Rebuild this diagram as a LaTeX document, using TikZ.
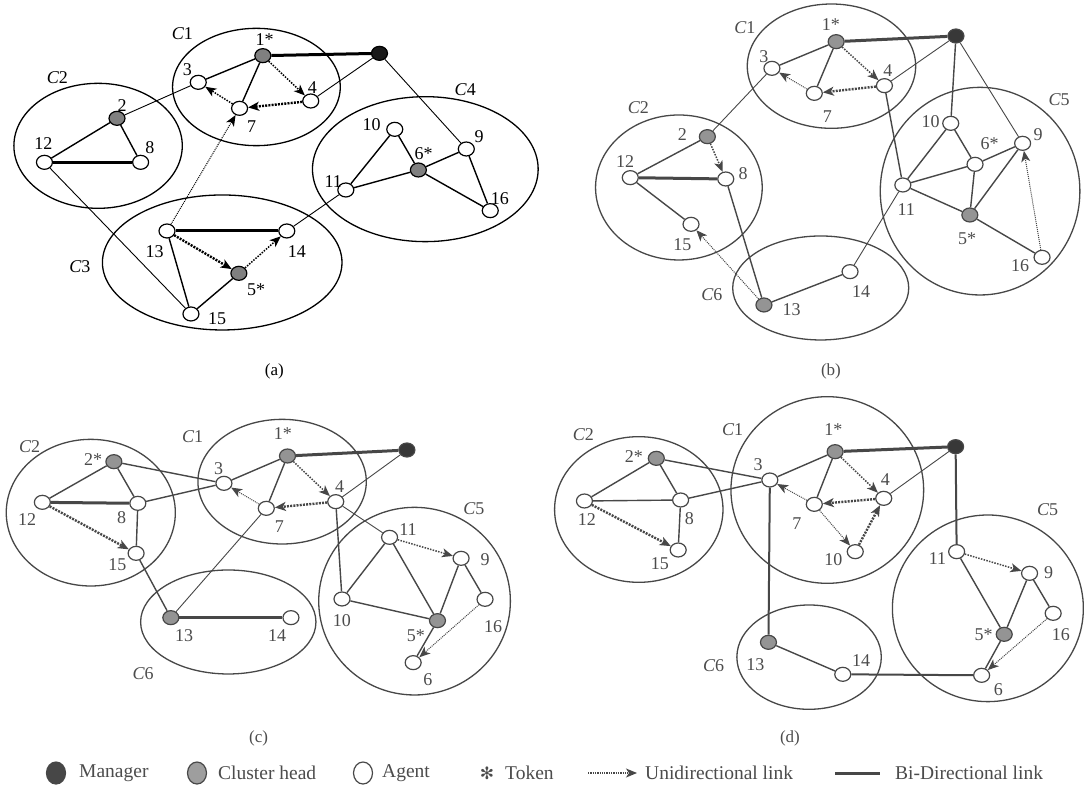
\documentclass[tikz,border=0pt]{standalone}
\usepackage{fontspec}
\setmainfont{Liberation Serif}
\newfontfamily\symfnt{DejaVu Sans}
\usetikzlibrary{shapes.geometric,arrows.meta}
\begin{document}
\begin{tikzpicture}[x=1pt,y=-1pt,
  ag/.style={ellipse, draw=lc, fill=white, line width=1.2pt, minimum width=16pt, minimum height=14pt, inner sep=0pt},
  hd/.style={ag, fill=hc},
  mg/.style={ag, fill=mc},
  lab/.style={text=tc, font=\fontsize{18}{18}\selectfont, inner sep=0pt},
  clab/.style={lab},
  subcap/.style={text=tc, font=\fontsize{17}{17}\selectfont, inner sep=0pt},
  clu/.style={draw=lc, line width=1.3pt},
  ln/.style={draw=lc, line width=1.4pt},
  thn/.style={draw=lc, line width=0.9pt},
  thk/.style={draw=lc, line width=3pt},
  uni/.style={draw=lc, line width=1.5pt, dash pattern=on 1.5pt off 1.3pt, -{Stealth[length=11pt,width=9pt,inset=3pt]}},
  unik/.style={uni, line width=2.4pt, dash pattern=on 2pt off 1.2pt},
  unit/.style={uni, line width=1pt, dash pattern=on 1pt off 1pt},
  legt/.style={text=black!70, font=\fontsize{19.5}{20}\selectfont, inner sep=0pt, anchor=west}
]
\useasboundingbox (0,0) rectangle (1084,785);
\fill[white] (0,0) rectangle (1084,785);

% ================= panel (a) =================
\begin{scope}[shift={(0,0)}, xscale=0.3472, yscale=0.3333]
\colorlet{lc}{black}\colorlet{tc}{black}\colorlet{hc}{black!50}\colorlet{mc}{black!90}
\draw[clu] (738.5,261) ellipse [x radius=241.5, y radius=176];
\draw[clu] (282.5,437.5) ellipse [x radius=242.5, y radius=187.5];
\draw[clu] (640,787.5) ellipse [x radius=345, y radius=202.5];
\draw[clu] (1225,507.5) ellipse [x radius=325, y radius=217.5];
\node[clab] (aC1) at (525,100) {\itshape C\upshape 1};
\node[clab] (aC2) at (165,232) {\itshape C\upshape 2};
\node[clab] (aC3) at (230,800) {\itshape C\upshape 3};
\node[clab] (aC4) at (1340,270) {\itshape C\upshape 4};
\node[mg] (am) at (1093,160) {};
\node[hd] (a1) at (757,167) {};
\node[ag] (a3) at (571,247) {};
\node[ag] (a4) at (895,303) {};
\node[ag] (a7) at (690,325) {};
\node[hd] (a2) at (337,355) {};
\node[ag] (a12) at (128,487) {};
\node[ag] (a8) at (405,487) {};
\node[ag] (a13) at (481,693) {};
\node[ag] (a14) at (826,693) {};
\node[hd] (a5) at (688,820) {};
\node[ag] (a15) at (550,942) {};
\node[ag] (a10) at (1137,388) {};
\node[hd] (a6) at (1205,510) {};
\node[ag] (a9) at (1343,447) {};
\node[ag] (a11) at (996,570) {};
\node[ag] (a16) at (1412,632) {};
\node[lab] (a1l) at (762,120) {1*};
\node[lab] (a3l) at (540,210) {3};
\node[lab] (a4l) at (900,262) {4};
\node[lab] (a7l) at (725,380) {7};
\node[lab] (a2l) at (352,318) {2};
\node[lab] (a12l) at (125,432) {12};
\node[lab] (a8l) at (432,442) {8};
\node[lab] (a13l) at (445,755) {13};
\node[lab] (a14l) at (855,755) {14};
\node[lab] (a5l) at (738,870) {5*};
\node[lab] (a15l) at (625,955) {15};
\node[lab] (a10l) at (1070,375) {10};
\node[lab] (a6l) at (1220,460) {6*};
\node[lab] (a9l) at (1380,410) {9};
\node[lab] (a11l) at (960,545) {11};
\node[lab] (a16l) at (1440,595) {16};
\draw[thk] (a1) -- (am);
\draw[thk] (a12) -- (a8);
\draw[thk] (a13) -- (a14);
\draw[ln] (a1) -- (a3);
\draw[ln] (a1) -- (a7);
\draw[ln] (a2) -- (a12);
\draw[ln] (a2) -- (a8);
\draw[ln] (a13) -- (a15);
\draw[ln] (a15) -- (a5);
\draw[ln] (a10) -- (a11);
\draw[ln] (a10) -- (a6);
\draw[ln] (a11) -- (a6);
\draw[ln] (a6) -- (a9);
\draw[ln] (a6) -- (a16);
\draw[ln] (a9) -- (a16);
\draw[thn] (a3) -- (a2);
\draw[thn] (am) -- (a4);
\draw[thn] (am) -- (a9);
\draw[thn] (a12) -- (a15);
\draw[thn] (a14) -- (a11);
\draw[uni] (a1) -- (a4);
\draw[unik] (a4) -- (a7);
\draw[uni] (a7) -- (a3);
\draw[unit] (a13) -- (a7);
\draw[unik] (a13) -- (a5);
\draw[uni] (a5) -- (a14);
\node[subcap] (acap) at (790,1115) {(a)};
\end{scope}

% ================= panel (b) =================
\begin{scope}[shift={(540,0)}, xscale=0.3472, yscale=0.3333]
\colorlet{lc}{black!72}\colorlet{tc}{black!70}\colorlet{hc}{black!42}\colorlet{mc}{black!78}
\draw[clu] (839.5,198.5) ellipse [x radius=242.5, y radius=186.5];
\draw[clu] (400,562.5) ellipse [x radius=240, y radius=217.5];
\draw[clu] (808.5,864) ellipse [x radius=253.5, y radius=156];
\draw[clu] (1267.5,573.5) ellipse [x radius=287.5, y radius=311.5];
\node[clab] (bC1) at (590,82) {\itshape C\upshape 1};
\node[clab] (bC2) at (283,322) {\itshape C\upshape 2};
\node[clab] (bC6) at (495,885) {\itshape C\upshape 6};
\node[clab] (bC5) at (1495,300) {\itshape C\upshape 5};
\node[mg] (bm) at (1198,108) {};
\node[hd] (b1) at (853,125) {};
\node[ag] (b3) at (668,205) {};
\node[ag] (b4) at (992,257) {};
\node[ag] (b7) at (790,280) {};
\node[hd] (b2) at (482,410) {};
\node[ag] (b12) at (260,533) {};
\node[ag] (b8) at (535,537) {};
\node[ag] (b15) at (435,673) {};
\node[hd] (b13) at (645,915) {};
\node[ag] (b14) at (893,815) {};
\node[ag] (b10) at (1183,370) {};
\node[ag] (b9) at (1390,430) {};
\node[ag] (b6) at (1253,493) {};
\node[ag] (b11) at (1045,555) {};
\node[hd] (b5) at (1238,645) {};
\node[ag] (b16) at (1446,772) {};
\node[lab] (b1l) at (838,75) {1*};
\node[lab] (b3l) at (645,170) {3};
\node[lab] (b4l) at (1002,212) {4};
\node[lab] (b7l) at (828,350) {7};
\node[lab] (b2l) at (410,405) {2};
\node[lab] (b12l) at (245,485) {12};
\node[lab] (b8l) at (585,520) {8};
\node[lab] (b15l) at (410,735) {15};
\node[lab] (b13l) at (725,930) {13};
\node[lab] (b14l) at (925,875) {14};
\node[lab] (b10l) at (1125,365) {10};
\node[lab] (b9l) at (1435,405) {9};
\node[lab] (b6l) at (1295,430) {6*};
\node[lab] (b11l) at (1055,630) {11};
\node[lab] (b5l) at (1230,715) {5*};
\node[lab] (b16l) at (1383,797) {16};
\draw[thk] (b1) -- (bm);
\draw[thk] (b12) -- (b8);
\draw[ln] (b1) -- (b3);
\draw[ln] (b1) -- (b7);
\draw[ln] (bm) -- (b10);
\draw[ln] (b4) -- (b11);
\draw[ln] (b8) -- (b13);
\draw[ln] (b13) -- (b14);
\draw[ln] (b2) -- (b12);
\draw[ln] (b12) -- (b15);
\draw[ln] (b10) -- (b11);
\draw[ln] (b10) -- (b6);
\draw[ln] (b11) -- (b6);
\draw[ln] (b6) -- (b9);
\draw[ln] (b6) -- (b5);
\draw[ln] (b5) -- (b9);
\draw[ln] (b11) -- (b5);
\draw[ln] (b5) -- (b16);
\draw[thn] (bm) -- (b4);
\draw[thn] (bm) -- (b9);
\draw[thn] (b3) -- (b2);
\draw[thn] (b14) -- (b11);
\draw[uni] (b1) -- (b4);
\draw[unik] (b4) -- (b7);
\draw[unit] (b7) -- (b3);
\draw[uni] (b2) -- (b8);
\draw[unit] (b13) -- (b15);
\draw[unit] (b16) -- (b9);
\node[subcap] (bcap) at (838,1115) {(b)};
\end{scope}

% ================= panel (c) =================
\begin{scope}[shift={(0,390)}, xscale=0.3472, yscale=0.3333]
\colorlet{lc}{black!72}\colorlet{tc}{black!70}\colorlet{hc}{black!42}\colorlet{mc}{black!78}
\draw[clu] (261.5,368) ellipse [x radius=243.5, y radius=220];
\draw[clu] (812.5,275) ellipse [x radius=242.5, y radius=187];
\draw[clu] (657.5,696) ellipse [x radius=252.5, y radius=156];
\draw[clu] (1194,633.5) ellipse [x radius=276, y radius=281.5];
\node[clab] (cC2) at (85,170) {\itshape C\upshape 2};
\node[clab] (cC1) at (555,140) {\itshape C\upshape 1};
\node[clab] (cC6) at (412,852) {\itshape C\upshape 6};
\node[clab] (cC5) at (1365,355) {\itshape C\upshape 5};
\node[hd] (c2) at (328,215) {};
\node[ag] (c12) at (122,337) {};
\node[ag] (c8) at (397,340) {};
\node[ag] (c15) at (392,490) {};
\node[hd] (c1) at (828,198) {};
\node[mg] (cm) at (1172,180) {};
\node[ag] (c3) at (645,280) {};
\node[ag] (c4) at (967,335) {};
\node[ag] (c7) at (767,355) {};
\node[hd] (c13) at (492,683) {};
\node[ag] (c14) at (838,683) {};
\node[ag] (c11) at (1122,442) {};
\node[ag] (c9) at (1328,505) {};
\node[ag] (c10) at (985,627) {};
\node[ag] (c16) at (1397,628) {};
\node[hd] (c5) at (1260,692) {};
\node[ag] (c6) at (1190,818) {};
\node[lab] (c2l) at (268,210) {2*};
\node[lab] (c12l) at (78,390) {12};
\node[lab] (c8l) at (350,383) {8};
\node[lab] (c15l) at (338,525) {15};
\node[lab] (c1l) at (815,132) {1*};
\node[lab] (c3l) at (630,235) {3};
\node[lab] (c4l) at (978,290) {4};
\node[lab] (c7l) at (805,410) {7};
\node[lab] (c13l) at (530,738) {13};
\node[lab] (c14l) at (798,738) {14};
\node[lab] (c11l) at (1175,420) {11};
\node[lab] (c9l) at (1397,510) {9};
\node[lab] (c10l) at (985,693) {10};
\node[lab] (c16l) at (1420,710) {16};
\node[lab] (c5l) at (1198,738) {5*};
\node[lab] (c6l) at (1232,870) {6};
\draw[thk] (c1) -- (cm);
\draw[thk] (c12) -- (c8);
\draw[thk] (c13) -- (c14);
\draw[ln] (c1) -- (c3);
\draw[ln] (c1) -- (c7);
\draw[ln] (c2) -- (c3);
\draw[ln] (c8) -- (c3);
\draw[ln] (c2) -- (c12);
\draw[ln] (c2) -- (c8);
\draw[ln] (c8) -- (c15);
\draw[ln] (c15) -- (c13);
\draw[ln] (c4) -- (c10);
\draw[ln] (c11) -- (c10);
\draw[ln] (c11) -- (c5);
\draw[ln] (c10) -- (c5);
\draw[ln] (c9) -- (c5);
\draw[ln] (c9) -- (c16);
\draw[ln] (c5) -- (c6);
\draw[thn] (cm) -- (c4);
\draw[thn] (c7) -- (c13);
\draw[thn] (c4) -- (c11);
\draw[uni] (c1) -- (c4);
\draw[unik] (c4) -- (c7);
\draw[unit] (c7) -- (c3);
\draw[unik] (c12) -- (c15);
\draw[uni] (c11) -- (c9);
\draw[unit] (c16) -- (c6);
\node[subcap] (ccap) at (745,1045) {(c)};
\end{scope}

% ================= panel (d) =================
\begin{scope}[shift={(540,390)}, xscale=0.3472, yscale=0.3333]
\colorlet{lc}{black!72}\colorlet{tc}{black!70}\colorlet{hc}{black!42}\colorlet{mc}{black!78}
\draw[clu] (284.5,358.5) ellipse [x radius=242.5, y radius=218.5];
\draw[clu] (827.5,300) ellipse [x radius=277.5, y radius=280];
\draw[clu] (775,801.5) ellipse [x radius=208, y radius=156.5];
\draw[clu] (1290,655) ellipse [x radius=275, y radius=280];
\node[clab] (dC2) at (125,133) {\itshape C\upshape 2};
\node[clab] (dC1) at (555,120) {\itshape C\upshape 1};
\node[clab] (dC6) at (500,828) {\itshape C\upshape 6};
\node[clab] (dC5) at (1462,360) {\itshape C\upshape 5};
\node[hd] (d2) at (335,205) {};
\node[ag] (d12) at (128,333) {};
\node[ag] (d8) at (405,330) {};
\node[ag] (d15) at (398,480) {};
\node[hd] (d1) at (850,185) {};
\node[mg] (dm) at (1197,170) {};
\node[ag] (d3) at (662,270) {};
\node[ag] (d4) at (990,325) {};
\node[ag] (d7) at (790,343) {};
\node[ag] (d10) at (908,485) {};
\node[hd] (d13) at (658,757) {};
\node[ag] (d14) at (872,853) {};
\node[ag] (d11) at (1200,485) {};
\node[ag] (d9) at (1410,550) {};
\node[ag] (d16) at (1478,670) {};
\node[hd] (d5) at (1337,733) {};
\node[ag] (d6) at (1272,856) {};
\node[lab] (d2l) at (270,200) {2*};
\node[lab] (d12l) at (135,390) {12};
\node[lab] (d8l) at (430,385) {8};
\node[lab] (d15l) at (345,520) {15};
\node[lab] (d1l) at (845,120) {1*};
\node[lab] (d3l) at (628,225) {3};
\node[lab] (d4l) at (995,270) {4};
\node[lab] (d7l) at (740,400) {7};
\node[lab] (d10l) at (845,510) {10};
\node[lab] (d13l) at (620,825) {13};
\node[lab] (d14l) at (925,812) {14};
\node[lab] (d11l) at (1145,505) {11};
\node[lab] (d9l) at (1465,548) {9};
\node[lab] (d16l) at (1500,733) {16};
\node[lab] (d5l) at (1278,735) {5*};
\node[lab] (d6l) at (1320,900) {6};
\draw[thk] (d1) -- (dm);
\draw[ln] (d1) -- (d3);
\draw[ln] (d1) -- (d7);
\draw[ln] (d2) -- (d3);
\draw[ln] (d8) -- (d3);
\draw[ln] (d2) -- (d12);
\draw[ln] (d2) -- (d8);
\draw[ln] (d12) -- (d8);
\draw[ln] (d8) -- (d15);
\draw[ln, line width=2pt] (dm) -- (d11);
\draw[ln, line width=2pt] (d3) -- (d13);
\draw[ln] (d13) -- (d14);
\draw[ln, line width=2pt] (d14) -- (d6);
\draw[ln] (d11) -- (d5);
\draw[ln] (d9) -- (d5);
\draw[ln] (d9) -- (d16);
\draw[ln] (d5) -- (d6);
\draw[thn] (dm) -- (d4);
\draw[uni] (d1) -- (d4);
\draw[unik] (d4) -- (d7);
\draw[unit] (d7) -- (d3);
\draw[unit] (d7) -- (d10);
\draw[unik] (d10) -- (d4);
\draw[unik] (d12) -- (d15);
\draw[uni] (d11) -- (d9);
\draw[unit] (d16) -- (d6);
\node[subcap] (dcap) at (720,1045) {(d)};
\end{scope}

% ================= legend =================
\colorlet{lc}{black!72}
\node[ellipse, draw=black!72, fill=black!72, line width=1.2pt, minimum width=19pt, minimum height=22pt, inner sep=0pt] (lm) at (56,773) {};
\node[legt] (lmt) at (79,773) {Manager};
\node[ellipse, draw=black!72, fill=black!38, line width=1.2pt, minimum width=19pt, minimum height=22pt, inner sep=0pt] (lh) at (197,773) {};
\node[legt] (lht) at (218,773) {Cluster head};
\node[ellipse, draw=black!72, fill=white, line width=1.2pt, minimum width=19pt, minimum height=22pt, inner sep=0pt] (la) at (363,773) {};
\node[legt] (lat) at (382,773) {Agent};
\node[text=black!70, inner sep=0pt, font=\symfnt\fontsize{17}{17}\selectfont] (ls) at (487,773) {✻};
\node[legt] (lst) at (505,773) {Token};
\coordinate (lu1) at (588,773);
\coordinate (lu2) at (637,773);
\draw[uni, line width=1.3pt, dash pattern=on 1.3pt off 1pt] (lu1) -- (lu2);
\node[legt] (lut) at (645,773) {Unidirectional link};
\coordinate (lb1) at (835,773);
\coordinate (lb2) at (880,773);
\draw[thk] (lb1) -- (lb2);
\node[legt] (lbt) at (895,773) {Bi-Directional link};
\end{tikzpicture}
\end{document}
